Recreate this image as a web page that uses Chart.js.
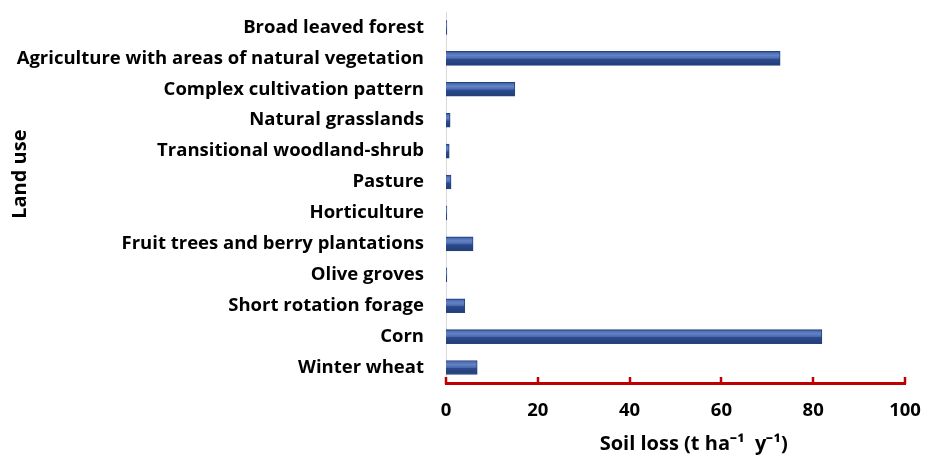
<!DOCTYPE html>
<html><head><meta charset="utf-8">
<script src="https://cdn.jsdelivr.net/npm/chart.js@4/dist/chart.umd.min.js"></script>
<style>html,body{margin:0;padding:0;background:#fff;}#w{width:925px;height:458px;}</style>
</head><body><div id="w"><canvas id="c"></canvas></div>
<script>
const categories = ["Broad leaved forest","Agriculture with areas of natural vegetation","Complex cultivation pattern","Natural grasslands","Transitional woodland-shrub","Pasture","Horticulture","Fruit trees and berry plantations","Olive groves","Short rotation forage","Corn","Winter wheat"];
const soilLoss = [0.2, 72.8, 15.0, 0.9, 0.7, 1.1, 0.2, 5.9, 0.2, 4.1, 81.9, 6.8];
const xTicks = [0, 20, 40, 60, 80, 100];
const FONT = "'Open Sans', 'Liberation Sans', sans-serif";
const BAR_H = 14;

function barFill(ctx) {
  const chart = ctx.chart;
  const ys = chart.scales && chart.scales.y;
  if (!ys || ctx.dataIndex === undefined) return '#3A5A9A';
  const yc = ys.getPixelForValue(ctx.dataIndex);
  if (!isFinite(yc)) return '#3A5A9A';
  const g = chart.ctx.createLinearGradient(0, yc - BAR_H/2, 0, yc + BAR_H/2);
  g.addColorStop(0, '#2A4886');
  g.addColorStop(0.12, '#4F70B6');
  g.addColorStop(0.3, '#6483C6');
  g.addColorStop(0.5, '#4A69AC');
  g.addColorStop(0.56, '#2C4B8C');
  g.addColorStop(1, '#213C78');
  return g;
}

const tickPlugin = {
  id: 'innerTicks',
  afterDraw(chart) {
    const x = chart.scales.x, ctx = chart.ctx, y0 = chart.chartArea.bottom;
    ctx.save();
    ctx.strokeStyle = '#C00000';
    ctx.lineWidth = 2.5;
    xTicks.forEach(v => {
      const px = Math.round(x.getPixelForValue(v));
      ctx.beginPath(); ctx.moveTo(px, y0 + 1); ctx.lineTo(px, y0 - 6); ctx.stroke();
    });
    ctx.restore();
  }
};

new Chart(document.getElementById('c'), {
  type: 'bar',
  data: { labels: categories, datasets: [{ data: soilLoss, backgroundColor: barFill, borderColor: '#24437F', borderWidth: 1, barThickness: BAR_H }] },
  options: {
    indexAxis: 'y', responsive: true, maintainAspectRatio: false, animation: false,
    layout: { padding: { top: 12, right: 20, left: 8, bottom: 0 } },
    plugins: { legend: { display: false }, tooltip: { enabled: false } },
    scales: {
      x: {
        min: 0, max: 100, afterBuildTicks(s) { s.ticks = xTicks.map(v => ({ value: v })); },
        afterFit(s) { s.height = 75; s.paddingLeft = 0; s.paddingRight = 0; },
        grid: { display: false },
        border: { display: true, color: '#C00000', width: 3 },
        ticks: { color: '#000', padding: 9, font: { family: FONT, size: 18.5, weight: 'bold' } },
        title: { display: true, text: '       Soil loss (t ha⁻¹  y⁻¹)', color: '#000', padding: { top: 0, bottom: 2 }, font: { family: FONT, size: 20, weight: 'bold' } }
      },
      y: {
        grid: { display: false },
        border: { display: true, color: '#D9D9D9', width: 1 },
        afterFit(s) { s.width = 438; s.paddingTop = 0; s.paddingBottom = 0; },
        ticks: { color: '#000', padding: 14, autoSkip: false, font: { family: FONT, size: 18.5, weight: 'bold' } },
        title: { display: true, text: '         Land use', color: '#000', padding: { top: 0, bottom: 0 }, font: { family: FONT, size: 20, weight: 'bold' } }
      }
    }
  },
  plugins: [tickPlugin]
});
</script></body></html>
